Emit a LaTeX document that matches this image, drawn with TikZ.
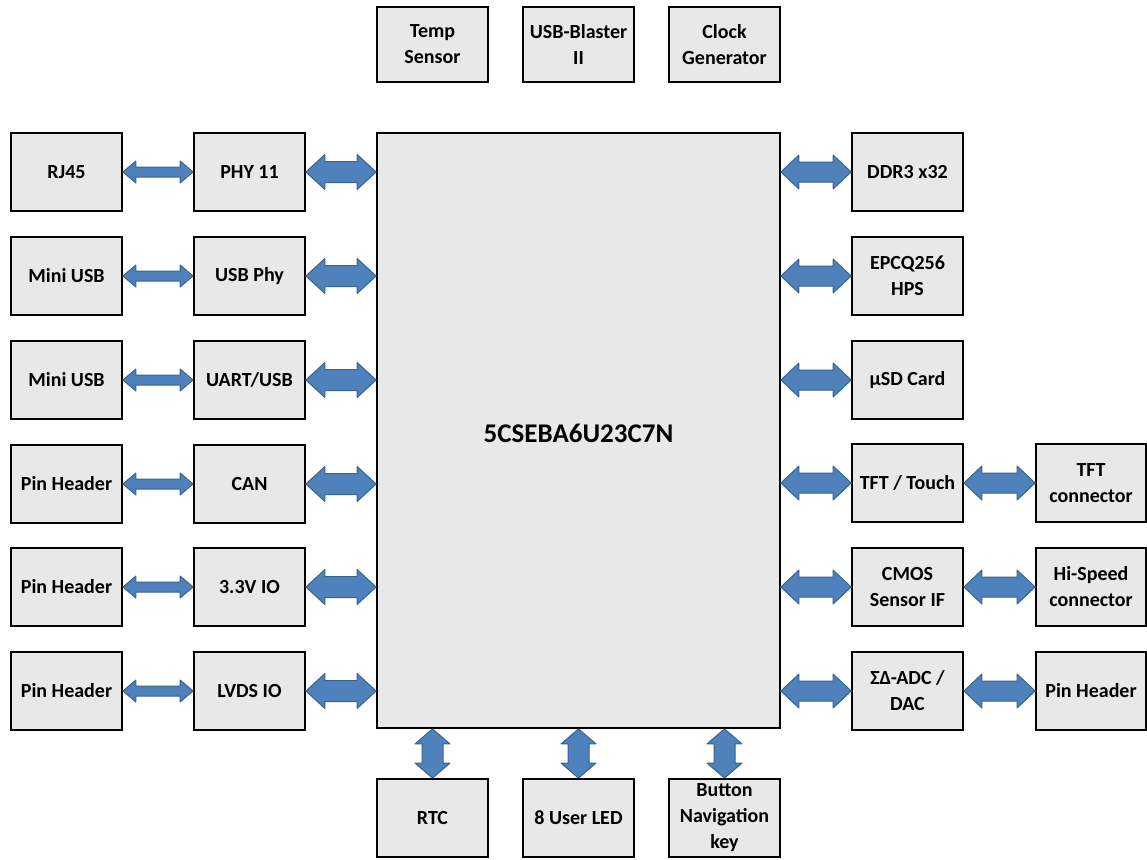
\documentclass[tikz,border=0pt]{standalone}
\usepackage{fontspec}
\setmainfont{Carlito}
\usetikzlibrary{calc}
\definecolor{cBox}{HTML}{E8E8E8}
\definecolor{cArrow}{HTML}{4F81BD}
\definecolor{cArrowEdge}{HTML}{3A6390}

% horizontal block arrow with two heads: from, to, half shaft, half head, head length
\newcommand{\dblarrowh}[5]{%
  \path[blockarrow] let \p1=(#1), \p2=(#2) in
    (\x1,\y1) -- (\x1+#5,\y1+#4) -- (\x1+#5,\y1+#3) -- (\x2-#5,\y1+#3)
    -- (\x2-#5,\y1+#4) -- (\x2,\y1) -- (\x2-#5,\y1-#4) -- (\x2-#5,\y1-#3)
    -- (\x1+#5,\y1-#3) -- (\x1+#5,\y1-#4) -- cycle;}
% vertical one, from the upper end to the lower end
\newcommand{\dblarrowv}[5]{%
  \path[blockarrow] let \p1=(#1), \p2=(#2) in
    (\x1,\y1) -- (\x1+#4,\y1-#5) -- (\x1+#3,\y1-#5) -- (\x1+#3,\y2+#5)
    -- (\x1+#4,\y2+#5) -- (\x1,\y2) -- (\x1-#4,\y2+#5) -- (\x1-#3,\y2+#5)
    -- (\x1-#3,\y1-#5) -- (\x1-#4,\y1-#5) -- cycle;}

\begin{document}
\begin{tikzpicture}[x=1pt,y=-1pt,
  box/.style={draw,line width=1.8pt,fill=cBox,minimum width=111pt,minimum height=78pt,
    inner sep=1pt,align=center,font=\fontsize{20}{26}\selectfont\bfseries},
  blockarrow/.style={fill=cArrow,draw=cArrowEdge,line width=1pt,line join=round}]

\useasboundingbox (0,0) rectangle (1147,859);

%============================ FPGA ============================
\node[box,minimum width=403pt,minimum height=595pt] (fpga) at (578.5,430.5) {};
\node[font=\fontsize{27}{32}\selectfont\bfseries] (part) at (578.5,433) {5CSEBA6U23C7N};

% --- top row ---
\node[box,minimum height=75pt] (temp) at (432.5,44.5) {Temp\\Sensor};
\node[box,minimum height=75pt] (blaster) at (578.5,44.5) {USB-Blaster\\II};
\node[box,minimum height=75pt] (clock) at (724.5,44.5) {Clock\\Generator};

% --- left side ---
\node[box] (rj45) at (66.5,172) {RJ45};
\node[box] (phy) at (249.5,172) {PHY 11};
\node[box] (miniA) at (66.5,276) {Mini USB};
\node[box] (usbphy) at (249.5,276) {USB Phy};
\node[box] (miniB) at (66.5,380) {Mini USB};
\node[box] (uart) at (249.5,380) {UART/USB};
\node[box] (pinA) at (66.5,484) {Pin Header};
\node[box] (can) at (249.5,484) {CAN};
\node[box] (pinB) at (66.5,587) {Pin Header};
\node[box] (io) at (249.5,587) {3.3V IO};
\node[box] (pinC) at (66.5,691) {Pin Header};
\node[box] (lvds) at (249.5,691) {LVDS IO};

% --- right side ---
\node[box] (ddr) at (907.5,172) {DDR3 x32};
\node[box] (epcq) at (907.5,276) {EPCQ256\\HPS};
\node[box] (sd) at (907.5,380) {µSD Card};
\node[box] (tft) at (907.5,483) {TFT / Touch};
\node[box,minimum width=110pt] (tftcon) at (1091,483) {TFT\\connector};
\node[box] (cmos) at (907.5,587) {CMOS\\Sensor IF};
\node[box,minimum width=110pt] (hispeed) at (1091,587) {Hi-Speed\\connector};
\node[box] (adc) at (907.5,691) {ΣΔ-ADC /\\DAC};
\node[box,minimum width=110pt] (pinD) at (1091,691) {Pin Header};

% --- bottom row ---
\node[box] (rtc) at (432.5,818) {RTC};
\node[box] (led) at (578.5,818) {8 User LED};
\node[box] (button) at (724.5,818) {Button\\Navigation\\key};

%============================ arrows ============================
\foreach \a/\b in {rj45/phy,miniA/usbphy,miniB/uart,pinA/can,pinB/io,pinC/lvds}
  \dblarrowh{\a.east}{\b.west}{5pt}{11pt}{13pt};
\foreach \a in {phy,usbphy,uart,can,io,lvds}
  \dblarrowh{\a.east}{\a.east -| fpga.west}{10.5pt}{17.5pt}{19pt};
\foreach \b in {ddr,epcq,sd,tft,cmos,adc}
  \dblarrowh{\b.west -| fpga.east}{\b.west}{10pt}{17pt}{18pt};
\foreach \a/\b in {tft/tftcon,cmos/hispeed,adc/pinD}
  \dblarrowh{\a.east}{\b.west}{10pt}{17pt}{18pt};
\foreach \b in {rtc,led,button}
  \dblarrowv{\b.north |- fpga.south}{\b.north}{10.5pt}{17.5pt}{15pt};

\end{tikzpicture}
\end{document}
